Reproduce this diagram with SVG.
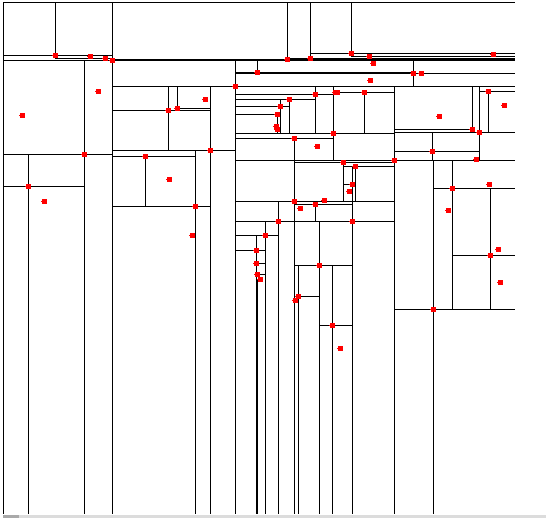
<svg xmlns="http://www.w3.org/2000/svg" xmlns:xlink="http://www.w3.org/1999/xlink" width="546" height="518" viewBox="0 0 546 518">
<style>
.ln{stroke:#000;stroke-width:1;fill:none;shape-rendering:crispEdges}
.pt{fill:#ff0000;shape-rendering:crispEdges}
</style>
<defs>
<g id="p" class="pt"><rect x="-2" y="-2" width="5" height="5"/><rect x="-3" y="0" width="1" height="1"/></g>
</defs>
<rect width="546" height="518" fill="#fff"/>
<g id="partition" class="ln">
<path d="M3,2.5H515 M3,55.5H112.5 M55.5,58.5H112.5 M3,60.5H515 M112.5,59.5H515 M287.5,58.5H515 M310.5,53.5H515 M351.5,56.5H515
M235.5,72.5H413.5 M235.5,73.5H515 M112.5,86.5H515
M112.5,110.5H210.5 M177.5,108.5H210.5 M112.5,150.5H235.5 M112.5,156.5H195.5 M112.5,206.5H210.5
M3,154.5H112.5 M3,186.5H84.5
M235.5,94.5H333.5 M333.5,92.5H394.5 M235.5,99.5H315.5 M235.5,106.5H289.5 M235.5,114.5H280.5
M235.5,133.5H394.5 M235.5,138.5H333.5 M235.5,160.5H515 M294.5,162.5H394.5 M343.5,166.5H394.5 M343.5,184.5H352.5
M235.5,201.5H394.5 M294.5,204.5H352.5 M235.5,221.5H394.5 M235.5,235.5H278.5 M235.5,250.5H265.5
M256.5,263.5H265.5 M256.5,274.5H265.5 M294.5,265.5H352.5 M298.5,296.5H319.5 M319.5,325.5H352.5
M394.5,129.5H472.5 M394.5,132.5H515 M479.5,91.5H515 M394.5,151.5H479.5 M433.5,188.5H515 M452.5,255.5H515 M394.5,309.5H515
M3.5,2V514 M55.5,2V58.5 M112.5,2V514 M287.5,2V59.5 M310.5,2V58.5 M351.5,2V56.5
M84.5,60.5V514 M28.5,154.5V514 M235.5,60.5V514 M257.5,60.5V72.5 M413.5,60.5V86.5
M168.5,86.5V150.5 M177.5,86.5V108.5 M210.5,86.5V514 M195.5,150.5V514 M145.5,156.5V206.5
M315.5,86.5V133.5 M333.5,86.5V160.5 M364.5,92.5V133.5 M394.5,86.5V514 M289.5,99.5V133.5 M280.5,99.5V133.5 M277.5,114.5V133.5
M294.5,138.5V514 M343.5,162.5V201.5 M352.5,166.5V514 M355.5,166.5V201.5 M315.5,204.5V221.5
M278.5,201.5V514 M319.5,221.5V514 M265.5,221.5V514 M256.5,235.5V514 M257.5,279V514 M298.5,265.5V514 M332.5,265.5V514
M472.5,86.5V129.5 M479.5,86.5V160.5 M488.5,91.5V132.5 M432.5,132.5V160.5 M433.5,160.5V514 M452.5,160.5V309.5 M490.5,188.5V309.5"/>
</g>
<g id="points">
<use xlink:href="#p" x="55" y="55"/><use xlink:href="#p" x="90" y="56"/><use xlink:href="#p" x="105" y="58"/><use xlink:href="#p" x="112" y="60"/>
<use xlink:href="#p" x="22" y="115"/><use xlink:href="#p" x="98" y="91"/><use xlink:href="#p" x="84" y="154"/><use xlink:href="#p" x="28" y="186"/>
<use xlink:href="#p" x="44" y="201"/><use xlink:href="#p" x="168" y="110"/><use xlink:href="#p" x="177" y="108"/><use xlink:href="#p" x="205" y="99"/>
<use xlink:href="#p" x="210" y="150"/><use xlink:href="#p" x="145" y="156"/><use xlink:href="#p" x="169" y="179"/><use xlink:href="#p" x="195" y="206"/>
<use xlink:href="#p" x="192" y="235"/><use xlink:href="#p" x="235" y="86"/><use xlink:href="#p" x="287" y="59"/><use xlink:href="#p" x="310" y="58"/>
<use xlink:href="#p" x="351" y="53"/><use xlink:href="#p" x="369" y="56"/><use xlink:href="#p" x="373" y="63"/><use xlink:href="#p" x="493" y="54"/>
<use xlink:href="#p" x="257" y="72"/><use xlink:href="#p" x="413" y="73"/><use xlink:href="#p" x="421" y="73"/><use xlink:href="#p" x="370" y="80"/>
<use xlink:href="#p" x="315" y="94"/><use xlink:href="#p" x="335" y="92"/><use xlink:href="#p" x="337" y="92"/><use xlink:href="#p" x="364" y="92"/>
<use xlink:href="#p" x="289" y="99"/><use xlink:href="#p" x="280" y="106"/><use xlink:href="#p" x="277" y="114"/><use xlink:href="#p" x="276" y="126"/>
<use xlink:href="#p" x="277" y="129"/><use xlink:href="#p" x="333" y="133"/><use xlink:href="#p" x="294" y="138"/><use xlink:href="#p" x="317" y="146"/>
<use xlink:href="#p" x="394" y="160"/><use xlink:href="#p" x="343" y="162"/><use xlink:href="#p" x="355" y="166"/><use xlink:href="#p" x="352" y="184"/>
<use xlink:href="#p" x="349" y="191"/><use xlink:href="#p" x="294" y="201"/><use xlink:href="#p" x="324" y="200"/><use xlink:href="#p" x="315" y="204"/>
<use xlink:href="#p" x="300" y="208"/><use xlink:href="#p" x="278" y="221"/><use xlink:href="#p" x="352" y="221"/><use xlink:href="#p" x="265" y="235"/>
<use xlink:href="#p" x="256" y="250"/><use xlink:href="#p" x="256" y="263"/><use xlink:href="#p" x="257" y="274"/><use xlink:href="#p" x="260" y="279"/>
<use xlink:href="#p" x="319" y="265"/><use xlink:href="#p" x="298" y="296"/><use xlink:href="#p" x="295" y="300"/><use xlink:href="#p" x="332" y="325"/>
<use xlink:href="#p" x="340" y="348"/><use xlink:href="#p" x="439" y="116"/><use xlink:href="#p" x="472" y="129"/><use xlink:href="#p" x="479" y="132"/>
<use xlink:href="#p" x="488" y="91"/><use xlink:href="#p" x="504" y="105"/><use xlink:href="#p" x="432" y="151"/><use xlink:href="#p" x="476" y="159"/>
<use xlink:href="#p" x="452" y="188"/><use xlink:href="#p" x="489" y="184"/><use xlink:href="#p" x="448" y="210"/><use xlink:href="#p" x="490" y="255"/>
<use xlink:href="#p" x="498" y="249"/><use xlink:href="#p" x="500" y="282"/><use xlink:href="#p" x="433" y="309"/>
</g>
<g id="scrollbar" shape-rendering="crispEdges">
<rect x="3" y="515" width="543" height="3" fill="#dcdcdc"/>
<rect x="3" y="515" width="16" height="3" fill="#a9a9a9"/>
</g>
</svg>
